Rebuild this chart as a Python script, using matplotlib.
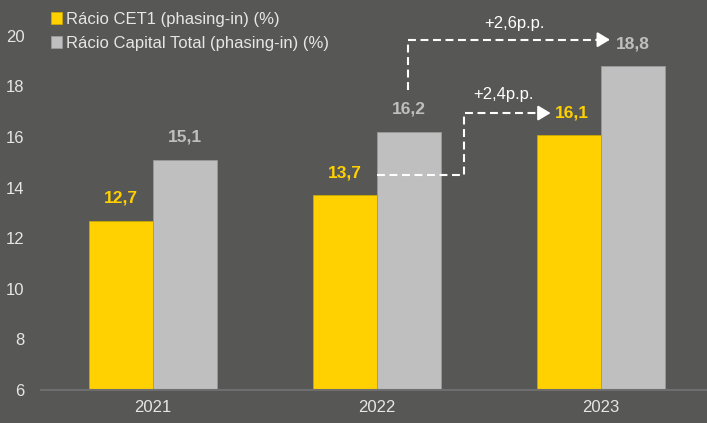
import numpy as np
import matplotlib.pyplot as plt
from matplotlib import font_manager

# DATA
anos = ['2021', '2022', '2023']
cet1 = [12.7, 13.7, 16.1]
capital_total = [15.1, 16.2, 18.8]
lbl_cet1 = ['12,7', '13,7', '16,1']
lbl_total = ['15,1', '16,2', '18,8']
nomes = ['Rácio CET1 (phasing-in) (%)', 'Rácio Capital Total (phasing-in) (%)']

# COLOURS
bg = '#575756'
amarelo = '#FFD100'
cinza = '#BFBFBF'
texto = '#E6E6E6'

fams = [f.name for f in font_manager.fontManager.ttflist]
fonte = 'Liberation Sans Narrow' if 'Liberation Sans Narrow' in fams else 'Liberation Sans'
plt.rcParams['font.family'] = [fonte, 'DejaVu Sans']

fig = plt.figure(figsize=(7.07, 4.23), dpi=100, facecolor=bg)
ax = fig.add_axes([0.058, 0.078, 0.942, 0.922], facecolor=bg)

x = np.arange(len(anos))
w = 0.2857
ax.bar(x - w/2, cet1, w, color=amarelo, edgecolor='#C9A800', linewidth=0.6, label=nomes[0], zorder=2)
ax.bar(x + w/2, capital_total, w, color=cinza, edgecolor='#9A9A9A', linewidth=0.6, label=nomes[1], zorder=2)

ax.set_ylim(6, 21.42)
ax.set_xlim(-0.5, 2.473)
ax.set_yticks([6, 8, 10, 12, 14, 16, 18, 20])
ax.set_xticks(x)
ax.set_xticklabels(anos)
ax.tick_params(length=0, colors=texto, labelsize=12)
ax.tick_params(axis='y', pad=12)
ax.tick_params(axis='x', pad=7)
for s in ['top', 'right', 'left']:
    ax.spines[s].set_visible(False)
ax.spines['bottom'].set_color('#6E6E6E')
ax.spines['bottom'].set_linewidth(1.5)

# VALUE LABELS
for i in [0, 1]:
    ax.text(x[i] - w/2, cet1[i] + 0.6, lbl_cet1[i], ha='center', va='bottom', color=amarelo,
            fontsize=12.5, fontweight='bold')
    ax.text(x[i] + w/2, capital_total[i] + 0.6, lbl_total[i], ha='center', va='bottom', color=cinza,
            fontsize=12.5, fontweight='bold')

# ARROWS
ds = (0, (3.8, 2.2))
cabeca = dict(arrowstyle='-|>,head_length=0.75,head_width=0.45', color='white', lw=1.5,
              shrinkA=0, shrinkB=0)
y1 = cet1[1] + 0.8
y2 = cet1[2] + 0.85
xa = 1.39
ax.plot([x[1], xa, xa, 1.73], [y1, y1, y2, y2], color='white', lw=1.5, linestyle=ds, zorder=3)
ax.annotate('', xy=(1.775, y2), xytext=(1.72, y2), arrowprops=cabeca)
ax.text(1.87, y2, lbl_cet1[2], ha='center', va='center', color=amarelo, fontsize=12.5, fontweight='bold')
ax.text(1.5625, y2 + 0.45, '+2,4p.p.', ha='center', va='bottom', color='white', fontsize=12)

y3 = capital_total[1] + 1.65
y4 = capital_total[2] + 1.05
xb = 1.14
ax.plot([xb, xb, 1.99], [y3, y4, y4], color='white', lw=1.5, linestyle=ds, zorder=3)
ax.annotate('', xy=(2.04, y4), xytext=(1.98, y4), arrowprops=cabeca)
ax.text(2.14, y4 - 0.15, lbl_total[2], ha='center', va='center', color=cinza, fontsize=12.5, fontweight='bold')
ax.text(1.615, y4 + 0.35, '+2,6p.p.', ha='center', va='bottom', color='white', fontsize=12)

leg = ax.legend(loc='upper left', bbox_to_anchor=(-0.003, 1.0), frameon=False, fontsize=12,
                labelcolor=texto, handlelength=0.7, handleheight=0.7, handletextpad=0.2,
                labelspacing=0.55, borderaxespad=0.3)

plt.savefig('out.png', dpi=100, facecolor=bg)
